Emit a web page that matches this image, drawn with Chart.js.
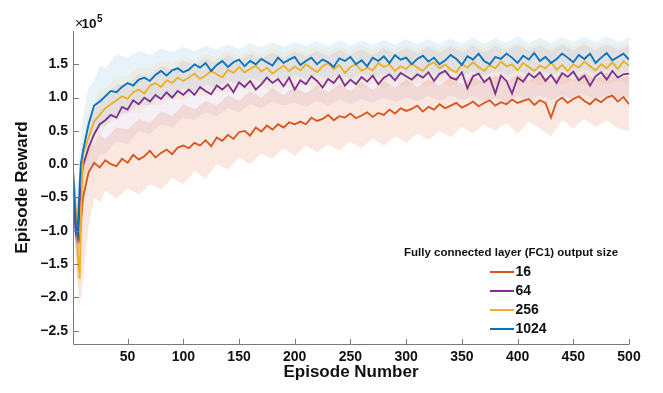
<!DOCTYPE html>
<html lang="en">
<head>
    <meta charset="UTF-8">
    <title>Episode Reward vs Episode Number</title>
    <script src="https://cdn.jsdelivr.net/npm/chart.js"></script>
    <style>
        body {
            margin: 0;
            background: #fff;
        }
        #wrap {
            width: 663px;
            height: 393px;
        }
    </style>
</head>
<body>
    <div id="wrap"><canvas id="rewardChart" width="663" height="393"></canvas></div>

    <script>
        const episodes = [1, 2, 3, 4, 5, 6, 7, 8, 9, 10,
            15, 20, 25, 30, 35, 40, 45, 50, 55, 60, 65, 70, 75, 80, 85, 90, 95, 100,
            105, 110, 115, 120, 125, 130, 135, 140, 145, 150, 155, 160, 165, 170, 175, 180, 185, 190, 195, 200,
            205, 210, 215, 220, 225, 230, 235, 240, 245, 250, 255, 260, 265, 270, 275, 280, 285, 290, 295, 300,
            305, 310, 315, 320, 325, 330, 335, 340, 345, 350, 355, 360, 365, 370, 375, 380, 385, 390, 395, 400,
            405, 410, 415, 420, 425, 430, 435, 440, 445, 450, 455, 460, 465, 470, 475, 480, 485, 490, 495, 500];

        // Mean episode reward (x 10^5) for each FC1 output size
        const reward16 = [-0.36, -0.5, -0.65, -0.8, -0.95, -1.1, -1.15, -0.95, -0.7, -0.5,
            -0.12, 0.02, -0.05, 0.06, 0.0, -0.03, 0.08, 0.02, 0.14, 0.07, 0.12, 0.2, 0.1, 0.17, 0.22, 0.15, 0.25, 0.28,
            0.24, 0.32, 0.28, 0.36, 0.27, 0.4, 0.35, 0.44, 0.38, 0.48, 0.5, 0.43, 0.55, 0.49, 0.58, 0.52, 0.6, 0.55, 0.63, 0.6,
            0.64, 0.6, 0.7, 0.65, 0.68, 0.74, 0.66, 0.72, 0.7, 0.76, 0.69, 0.73, 0.78, 0.71, 0.77, 0.74, 0.82, 0.76, 0.84, 0.8,
            0.83, 0.88, 0.79, 0.86, 0.82, 0.9, 0.84, 0.88, 0.92, 0.85, 0.89, 0.94, 0.87, 0.92, 0.96, 0.88, 0.93, 0.9, 0.97, 0.92,
            0.95, 0.98, 0.89, 0.96, 0.92, 0.7, 0.94, 1.0, 0.92, 0.98, 1.02, 0.95, 0.9, 0.98, 0.93, 1.0, 1.03, 0.94, 1.01, 0.9];
        const reward64 = [-0.2, -0.5, -0.95, -1.1, -1.18, -0.95, -0.6, -0.4, -0.15, -0.02,
            0.25, 0.45, 0.6, 0.66, 0.74, 0.7, 0.86, 0.82, 0.96, 0.9, 1.0, 0.94, 1.04, 0.98, 1.08, 1.0, 1.1, 1.04,
            1.12, 1.04, 1.16, 1.1, 1.05, 1.18, 1.12, 1.2, 1.08, 1.23, 1.16, 1.25, 1.12, 1.2, 1.3, 1.22, 1.28, 1.17, 1.3, 1.12,
            1.26, 1.2, 1.32, 1.25, 1.15, 1.28, 1.22, 1.33, 1.18, 1.27, 1.2, 1.31, 1.24, 1.33, 1.2, 1.3, 1.35, 1.26, 1.37, 1.32,
            1.27, 1.35, 1.3, 1.38, 1.25, 1.36, 1.4, 1.3, 1.27, 1.38, 1.14, 1.32, 1.36, 1.23, 1.3, 1.06, 1.33, 1.25, 1.06, 1.3,
            1.24, 1.36, 1.3, 1.38, 1.25, 1.34, 1.22, 1.37, 1.31, 1.39, 1.26, 1.33, 1.18, 1.32, 1.38, 1.27, 1.4, 1.3, 1.35, 1.36];
        const reward256 = [-0.1, -0.3, -0.6, -0.9, -1.2, -1.5, -1.72, -1.0, -0.3, 0.15,
            0.4, 0.64, 0.74, 0.84, 0.9, 0.96, 1.02, 0.98, 1.08, 1.12, 1.06, 1.18, 1.22, 1.16, 1.26, 1.22, 1.3, 1.25,
            1.3, 1.36, 1.28, 1.33, 1.4, 1.35, 1.3, 1.42, 1.37, 1.46, 1.38, 1.43, 1.48, 1.39, 1.45, 1.36, 1.42, 1.48, 1.4, 1.47,
            1.41, 1.5, 1.44, 1.38, 1.47, 1.52, 1.43, 1.49, 1.37, 1.46, 1.5, 1.4, 1.45, 1.41, 1.52, 1.46, 1.5, 1.4, 1.47, 1.43,
            1.51, 1.45, 1.4, 1.49, 1.53, 1.44, 1.5, 1.42, 1.38, 1.5, 1.45, 1.53, 1.46, 1.4, 1.49, 1.44, 1.54, 1.47, 1.5, 1.41,
            1.52, 1.46, 1.4, 1.48, 1.44, 1.53, 1.42, 1.49, 1.4, 1.5, 1.45, 1.54, 1.47, 1.41, 1.5, 1.44, 1.53, 1.43, 1.55, 1.48];
        const reward1024 = [-0.1, -0.4, -0.75, -1.0, -1.08, -0.7, -0.3, 0.0, 0.1, 0.2,
            0.6, 0.88, 0.94, 1.02, 1.1, 1.08, 1.16, 1.22, 1.18, 1.27, 1.3, 1.25, 1.34, 1.4, 1.33, 1.41, 1.44, 1.38,
            1.42, 1.5, 1.45, 1.52, 1.4, 1.49, 1.55, 1.46, 1.53, 1.57, 1.47, 1.55, 1.5, 1.58, 1.53, 1.48, 1.6, 1.52, 1.57, 1.61,
            1.49, 1.55, 1.6, 1.5, 1.57, 1.53, 1.46, 1.59, 1.55, 1.61, 1.5, 1.56, 1.47, 1.6, 1.55, 1.62, 1.52, 1.64, 1.57, 1.6,
            1.5, 1.58, 1.63, 1.54, 1.6, 1.5, 1.56, 1.64, 1.58, 1.49, 1.62, 1.57, 1.66, 1.55, 1.5, 1.61, 1.58, 1.66, 1.6, 1.52,
            1.63, 1.57, 1.67, 1.55, 1.61, 1.52, 1.58, 1.66, 1.6, 1.53, 1.64, 1.58, 1.66, 1.52, 1.6, 1.67, 1.56, 1.61, 1.66, 1.57];

        const bandEpisodes = [1, 3, 5, 7, 9, 12, 15, 20, 25, 30, 40, 50,
            60, 70, 80, 90, 100, 110, 120, 130, 140, 150,
            160, 170, 180, 190, 200, 210, 220, 230, 240, 250,
            260, 270, 280, 290, 300, 310, 320, 330, 340, 350,
            360, 370, 380, 390, 400, 410, 420, 430, 440, 450,
            460, 470, 480, 490, 500];

        const upper16 = [-0.1, -0.3, -0.5, -0.5, -0.2, 0.1, 0.25, 0.3, 0.45, 0.38, 0.55, 0.52,
            0.68, 0.62, 0.8, 0.72, 0.9, 0.82, 0.95, 0.88, 1.04, 0.95,
            1.1, 1.0, 1.14, 1.04, 1.16, 1.06, 1.18, 1.08, 1.2, 1.1,
            1.23, 1.12, 1.25, 1.15, 1.27, 1.16, 1.28, 1.18, 1.3, 1.2,
            1.32, 1.22, 1.33, 1.24, 1.35, 1.25, 1.36, 1.24, 1.37, 1.26,
            1.38, 1.27, 1.38, 1.28, 1.33];
        const lower16 = [-0.6, -1.2, -1.7, -2.1, -1.9, -1.4, -0.95, -0.5, -0.58, -0.4, -0.52, -0.36,
            -0.46, -0.3, -0.38, -0.2, -0.3, -0.1, -0.22, 0.0, -0.08, 0.1,
            0.0, 0.16, 0.08, 0.24, 0.12, 0.28, 0.18, 0.3, 0.2, 0.34,
            0.24, 0.38, 0.28, 0.42, 0.32, 0.46, 0.36, 0.5, 0.4, 0.56,
            0.46, 0.6, 0.5, 0.62, 0.45, 0.64, 0.54, 0.42, 0.66, 0.54,
            0.68, 0.56, 0.66, 0.54, 0.5];
        const upper64 = [0.0, -0.5, -0.7, -0.2, 0.2, 0.5, 0.7, 0.78, 1.0, 1.0, 1.2, 1.2,
            1.36, 1.32, 1.48, 1.42, 1.56, 1.48, 1.6, 1.52, 1.64, 1.56,
            1.66, 1.58, 1.68, 1.6, 1.7, 1.62, 1.7, 1.63, 1.72, 1.64,
            1.73, 1.64, 1.74, 1.66, 1.75, 1.66, 1.76, 1.68, 1.77, 1.68,
            1.78, 1.68, 1.78, 1.7, 1.8, 1.7, 1.79, 1.7, 1.8, 1.71,
            1.8, 1.72, 1.8, 1.72, 1.78];
        const lower64 = [-0.5, -1.4, -1.8, -1.3, -0.6, -0.2, -0.05, -0.05, 0.15, 0.15, 0.35, 0.3,
            0.5, 0.45, 0.6, 0.55, 0.7, 0.66, 0.78, 0.72, 0.84, 0.78,
            0.9, 0.84, 0.94, 0.88, 0.92, 0.86, 0.95, 0.88, 0.97, 0.9,
            0.98, 0.92, 1.0, 0.93, 1.0, 0.95, 1.02, 0.95, 1.03, 0.96,
            1.02, 0.94, 1.0, 0.93, 1.02, 0.95, 1.03, 0.96, 1.04, 0.97,
            1.04, 0.97, 1.03, 0.98, 1.02];
        const upper256 = [0.1, -0.2, -0.6, -1.0, 0.1, 0.5, 0.82, 0.95, 1.15, 1.12, 1.32, 1.32,
            1.46, 1.44, 1.56, 1.5, 1.62, 1.56, 1.66, 1.6, 1.7, 1.63,
            1.72, 1.66, 1.74, 1.67, 1.75, 1.68, 1.76, 1.69, 1.77, 1.7,
            1.78, 1.71, 1.79, 1.72, 1.8, 1.72, 1.81, 1.73, 1.81, 1.74,
            1.82, 1.74, 1.83, 1.75, 1.82, 1.75, 1.84, 1.76, 1.83, 1.76,
            1.85, 1.77, 1.84, 1.78, 1.82];
        const lower256 = [-0.4, -1.0, -1.8, -2.3, -0.9, -0.1, 0.08, 0.32, 0.42, 0.58, 0.66, 0.78,
            0.76, 0.9, 0.88, 1.0, 0.96, 1.06, 1.02, 1.1, 1.06, 1.15,
            1.1, 1.18, 1.1, 1.19, 1.12, 1.2, 1.12, 1.2, 1.14, 1.21,
            1.14, 1.22, 1.15, 1.22, 1.16, 1.23, 1.16, 1.24, 1.17, 1.24,
            1.16, 1.24, 1.17, 1.25, 1.17, 1.24, 1.18, 1.25, 1.18, 1.26,
            1.18, 1.25, 1.19, 1.26, 1.2];
        const upper1024 = [0.2, -0.3, -0.6, 0.2, 0.6, 0.9, 1.15, 1.25, 1.48, 1.45, 1.65, 1.6,
            1.7, 1.64, 1.74, 1.68, 1.76, 1.7, 1.78, 1.72, 1.8, 1.73,
            1.82, 1.75, 1.83, 1.76, 1.84, 1.77, 1.85, 1.77, 1.86, 1.78,
            1.86, 1.79, 1.87, 1.79, 1.88, 1.8, 1.88, 1.8, 1.89, 1.81,
            1.9, 1.81, 1.89, 1.82, 1.93, 1.82, 1.9, 1.82, 1.91, 1.83,
            1.91, 1.83, 1.92, 1.84, 1.9];
        const lower1024 = [-0.4, -1.2, -1.5, -0.9, -0.3, 0.1, 0.32, 0.42, 0.6, 0.56, 0.76, 0.76,
            0.9, 0.88, 1.04, 0.98, 1.14, 1.08, 1.2, 1.14, 1.25, 1.2,
            1.3, 1.24, 1.32, 1.26, 1.33, 1.27, 1.34, 1.28, 1.35, 1.28,
            1.36, 1.29, 1.37, 1.3, 1.37, 1.31, 1.38, 1.31, 1.39, 1.32,
            1.39, 1.32, 1.4, 1.33, 1.4, 1.33, 1.41, 1.34, 1.41, 1.34,
            1.42, 1.35, 1.41, 1.35, 1.4];

        const seriesLabels = ['16', '64', '256', '1024'];
        const legendTitle = 'Fully connected layer (FC1) output size';
        const xTicks = [50, 100, 150, 200, 250, 300, 350, 400, 450, 500];
        const yTicks = [-2.5, -2.0, -1.5, -1.0, -0.5, 0.0, 0.5, 1.0, 1.5];

        const lineColors = ['#D95319', '#7E2F8E', '#EDB120', '#0072BD'];
        const bandColors = ['rgba(217, 83, 25, 0.14)', 'rgba(126, 47, 142, 0.08)',
                            'rgba(237, 177, 32, 0.09)', 'rgba(0, 114, 189, 0.09)'];
        const FONT = '"Liberation Sans", Arial, sans-serif';

        const means = [reward16, reward64, reward256, reward1024];
        const uppers = [upper16, upper64, upper256, upper1024];
        const lowers = [lower16, lower64, lower256, lower1024];

        function toPoints(xs, ys) {
            return xs.map((x, i) => ({ x: x, y: ys[i] }));
        }

        // shaded spread: upper edge, then lower edge filled up to it
        const datasets = [];
        seriesLabels.forEach((lab, i) => {
            const upIndex = datasets.length;
            datasets.push({
                label: lab + ' upper',
                data: toPoints(bandEpisodes, uppers[i]),
                borderWidth: 0,
                pointRadius: 0,
                fill: false,
                order: 20 + i
            });
            datasets.push({
                label: lab + ' lower',
                data: toPoints(bandEpisodes, lowers[i]),
                borderWidth: 0,
                pointRadius: 0,
                backgroundColor: bandColors[i],
                fill: { target: upIndex },
                order: 20 + i
            });
        });
        // mean lines, 1024 on top
        seriesLabels.forEach((lab, i) => {
            datasets.push({
                label: lab,
                data: toPoints(episodes, means[i]),
                borderColor: lineColors[i],
                borderWidth: 1.8,
                pointRadius: 0,
                fill: false,
                tension: 0,
                order: 3 - i
            });
        });

        const axisColor = '#7a7a7a';

        // MATLAB style axes with inward ticks, exponent label and legend
        const decorations = {
            id: 'decorations',
            afterDraw(chart) {
                const ctx = chart.ctx;
                const xs = chart.scales.x, ys = chart.scales.y;
                const x0 = Math.round(xs.getPixelForValue(1));
                const x1 = Math.round(xs.getPixelForValue(500));
                const yTop = Math.round(ys.getPixelForValue(2.0));
                const yBot = Math.round(ys.getPixelForValue(-2.7));
                ctx.save();
                ctx.strokeStyle = axisColor;
                ctx.lineWidth = 1;
                ctx.beginPath();
                ctx.moveTo(x0 + 0.5, yTop);
                ctx.lineTo(x0 + 0.5, yBot + 0.5);
                ctx.lineTo(x1 + 0.5, yBot + 0.5);
                xTicks.forEach(v => {
                    const px = Math.round(xs.getPixelForValue(v)) + 0.5;
                    ctx.moveTo(px, yBot);
                    ctx.lineTo(px, yBot - 5);
                });
                yTicks.forEach(v => {
                    const py = Math.round(ys.getPixelForValue(v)) + 0.5;
                    ctx.moveTo(x0, py);
                    ctx.lineTo(x0 + 6, py);
                });
                ctx.stroke();

                // x 10^5
                ctx.fillStyle = '#111';
                ctx.textBaseline = 'alphabetic';
                ctx.textAlign = 'left';
                ctx.font = '14px ' + FONT;
                ctx.fillText('\u00d7', x0 + 2, 28);
                ctx.font = 'bold 13.5px ' + FONT;
                ctx.fillText('10', x0 + 8.5, 28);
                ctx.font = 'bold 10px ' + FONT;
                ctx.fillText('5', x0 + 24, 21.5);

                // legend
                ctx.textBaseline = 'middle';
                ctx.textAlign = 'center';
                ctx.font = 'bold 11.5px ' + FONT;
                ctx.fillText(legendTitle, 511, 253);
                seriesLabels.forEach((lab, i) => {
                    const y = 272 + i * 19;
                    ctx.strokeStyle = lineColors[i];
                    ctx.lineWidth = 2;
                    ctx.beginPath();
                    ctx.moveTo(490, y);
                    ctx.lineTo(514, y);
                    ctx.stroke();
                    ctx.textAlign = 'left';
                    ctx.font = 'bold 14px ' + FONT;
                    ctx.fillText(lab, 515.5, y + 0.5);
                });
                ctx.restore();
            }
        };

        new Chart(document.getElementById('rewardChart'), {
            type: 'line',
            data: { datasets: datasets },
            plugins: [decorations],
            options: {
                responsive: false,
                animation: false,
                layout: { padding: { top: 31, right: 34, left: 0, bottom: 0 } },
                plugins: {
                    legend: { display: false },
                    tooltip: { enabled: false },
                    filler: { propagate: false }
                },
                scales: {
                    x: {
                        type: 'linear',
                        min: 1,
                        max: 500,
                        afterBuildTicks: s => { s.ticks = xTicks.map(v => ({ value: v })); },
                        afterFit: s => { s.height = 49; },
                        grid: { display: false, drawTicks: false },
                        border: { display: false },
                        ticks: {
                            padding: 5,
                            color: '#111',
                            maxRotation: 0,
                            font: { family: FONT, size: 14, weight: 'bold' }
                        },
                        title: {
                            display: true,
                            text: 'Episode Number',
                            color: '#111',
                            padding: { top: 0, bottom: 10 },
                            font: { family: FONT, size: 17, weight: 'bold' }
                        }
                    },
                    y: {
                        min: -2.7,
                        max: 2.0,
                        afterBuildTicks: s => { s.ticks = yTicks.map(v => ({ value: v })); },
                        afterFit: s => { s.width = 73; },
                        grid: { display: false, drawTicks: false },
                        border: { display: false },
                        ticks: {
                            padding: 5,
                            color: '#111',
                            font: { family: FONT, size: 14, weight: 'bold' },
                            callback: v => (v < 0 ? '\u2212' : '') + Math.abs(v).toFixed(1)
                        },
                        title: {
                            display: true,
                            text: 'Episode Reward',
                            color: '#111',
                            padding: { top: 12, bottom: 0 },
                            font: { family: FONT, size: 17, weight: 'bold' }
                        }
                    }
                }
            }
        });
    </script>
</body>
</html>
